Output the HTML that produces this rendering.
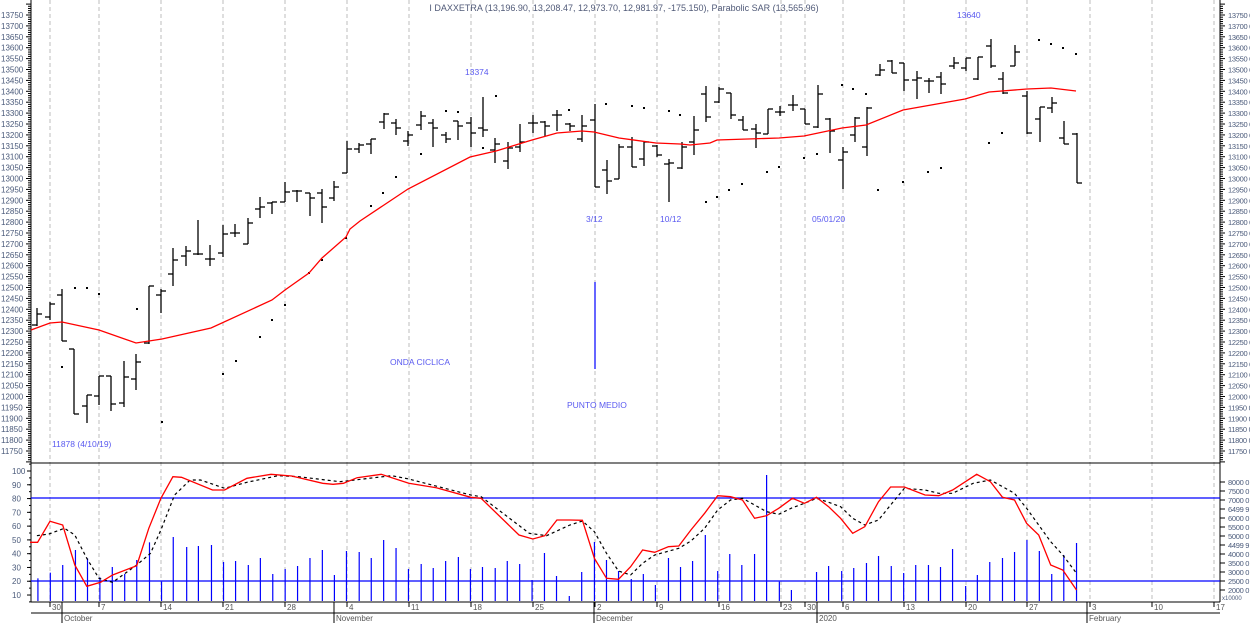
<!DOCTYPE html>
<html><head><meta charset="utf-8"><style>
html,body{margin:0;padding:0;background:#fff;width:1250px;height:623px;overflow:hidden}
svg text{font-family:"Liberation Sans",sans-serif}
</style></head><body>
<svg id="s" width="1250" height="623" xmlns="http://www.w3.org/2000/svg">
<g id="grid"></g>
<g id="ax" stroke="#000" stroke-width="1"></g>
<g id="lbl" font-size="8" fill="#4a5a7a"></g>
<g id="rlbl" font-size="7.5" fill="#4a5a7a" letter-spacing="-0.3"></g>
<text x="624" y="11" font-size="9" fill="#505a78" text-anchor="middle">I DAXXETRA (13,196.90, 13,208.47, 12,973.70, 12,981.97, -175.150), Parabolic SAR (13,565.96)</text>
<g font-size="8.5" fill="#5a5af0">
<text x="465" y="75">13374</text><text x="957" y="18">13640</text>
<text x="586" y="222">3/12</text><text x="660" y="222">10/12</text><text x="812" y="222">05/01/20</text>
<text x="390" y="365">ONDA CICLICA</text><text x="567" y="408">PUNTO MEDIO</text>
<text x="52" y="447">11878 (4/10/19)</text>
</g>
<line x1="595" y1="282" x2="595" y2="369" stroke="#0000ff" stroke-width="1.2"/>
<g id="bars" stroke="#000" stroke-width="1.3" fill="none"></g>
<g id="sar" fill="#000"></g>
<g id="vol" stroke="#0000ff" stroke-width="1.2"></g>
<line x1="31" y1="498" x2="1220" y2="498" stroke="#0000ff" stroke-width="1.2"/>
<line x1="31" y1="581" x2="1220" y2="581" stroke="#0000ff" stroke-width="1.2"/>
<polyline id="ma" fill="none" stroke="#f00" stroke-width="1.3"/>
<polyline id="sk" fill="none" stroke="#000" stroke-width="1.2" stroke-dasharray="3,3"/>
<polyline id="sr" fill="none" stroke="#f00" stroke-width="1.3"/>
</svg>
<script>
var NS="http://www.w3.org/2000/svg";
function el(p,t,a,txt){var e=document.createElementNS(NS,t);for(var k in a)e.setAttribute(k,a[k]);if(txt!=null)e.textContent=txt;document.getElementById(p).appendChild(e);return e;}
var gx=[50,99,161,223,285,347,409,471,533,595,657,719,781,805,843,904,966,1027,1090,1152,1214];
gx.forEach(function(x){el('grid','line',{x1:x,y1:0,x2:x,y2:602,stroke:'#bdbdbd','stroke-dasharray':'4,3'});});
el('ax','line',{x1:31,y1:0,x2:31,y2:602});
el('ax','line',{x1:1220,y1:0,x2:1220,y2:602});
el('ax','line',{x1:31,y1:463,x2:1220,y2:463});
el('ax','line',{x1:31,y1:602,x2:1220,y2:602});
el('ax','line',{x1:31,y1:613,x2:1220,y2:613});
for(var p=13800;p>=11700;p-=10){var y=15+(13750-p)*0.218;var big=p%50==0;
 el('ax','line',{x1:big?26:28,y1:y,x2:31,y2:y});el('ax','line',{x1:1220,y1:y,x2:big?1225:1223,y2:y});
 if(big&&p<=13750&&p>=11750){el('lbl','text',{x:1,y:y+3},String(p));el('rlbl','text',{x:1228,y:y+3},String(p)+' 0');}}
for(var v=100;v>=10;v-=10){var y=471+(100-v)*1.378;el('lbl','text',{x:12,y:y+3},String(v));el('ax','line',{x1:27,y1:y,x2:31,y2:y});}
for(var v=105;v>=5;v-=5){var y=471+(100-v)*1.378;el('ax','line',{x1:29,y1:y,x2:31,y2:y});}
var rl=['8000 0','7500 0','7000 0','6499 9','6000 0','5500 0','5000 0','4499 9','4000 0','3500 0','3000 0','2500 0','2000 0'];
rl.forEach(function(t,i){var y=482+i*9;el('rlbl','text',{x:1228,y:y+3},t);el('ax','line',{x1:1220,y1:y,x2:1225,y2:y});});
el('lbl','text',{x:1222,y:600,'font-size':6},'x10000');
var dl=['30','7','14','21','28','4','11','18','25','2','9','16','23','30','6','13','20','27','3','10','17'];
gx.forEach(function(x,i){el('ax','line',{x1:x,y1:602,x2:x,y2:607});el('lbl','text',{x:x+2,y:610,fill:'#555'},dl[i]);});
[[62,'October'],[334,'November'],[594,'December'],[817,'2020'],[1087,'February']].forEach(function(m){el('ax','line',{x1:m[0],y1:602,x2:m[0],y2:623});el('lbl','text',{x:m[0]+2,y:621,fill:'#555'},m[1]);});
var B=[[37,308,326,325,314],[50,302,320,317,304],[62,289,341,295,341],[74,349,414,349,414],[87,395,423,406,395],[99,376,405,396,376],[111,376,411,376,404],[124,361,407,403,377],[136,354,390,379,362],[149,286,344,343,286],[161,289,313,295,291],[173,248,286,274,260],[186,246,266,256,251],[198,220,255,254,254],[210,245,266,259,259],[223,225,257,253,234],[235,224,237,233,233],[248,218,244,244,223],[260,197,218,209,207],[272,202,214,203,202],[285,182,202,202,192],[297,190,202,191,191],[310,193,216,193,198],[322,189,223,193,207],[334,181,201,198,187],[347,141,173,173,149],[359,143,153,149,145],[371,139,154,144,139],[384,113,129,122,114],[396,119,135,123,128],[408,131,146,141,135],[421,111,130,125,116],[433,119,147,123,128],[446,132,143,135,139],[458,121,140,121,126],[471,117,147,123,133],[483,97,137,128,130],[495,138,163,150,144],[508,142,169,161,148],[520,124,152,147,142],[533,115,133,123,123],[545,121,136,122,126],[557,110,131,115,115],[570,123,131,124,126],[582,115,142,139,126],[595,104,187,120,187],[607,160,194,170,181],[619,144,179,179,147],[632,137,167,147,167],[644,142,166,159,142],[657,145,157,146,155],[669,159,202,164,163],[682,142,169,168,147],[694,116,155,142,130],[706,86,122,94,117],[719,87,103,102,89],[731,93,119,93,115],[743,116,130,120,130],[756,124,148,129,133],[768,109,134,134,109],[780,106,116,112,112],[793,95,111,105,105],[805,109,124,109,124],[818,85,128,127,94],[830,118,153,119,131],[843,147,189,160,152],[855,117,142,135,118],[867,107,156,147,108],[880,64,76,75,70],[892,60,73,61,73],[904,63,91,63,80],[917,71,99,80,78],[929,78,93,81,81],[941,72,94,77,84],[954,57,69,66,63],[966,58,71,68,58],[978,57,80,79,57],[991,39,68,46,66],[1003,72,94,79,93],[1015,45,66,66,52],[1027,91,134,96,133],[1040,107,142,119,107],[1052,97,113,108,103],[1064,121,144,138,144],[1077,133,183,134,183]];
B.forEach(function(b){var x=b[0];el('bars','line',{x1:x,y1:b[1],x2:x,y2:b[2]});el('bars','line',{x1:x-5,y1:b[3],x2:x,y2:b[3]});el('bars','line',{x1:x,y1:b[4],x2:x+5,y2:b[4]});});
var S=[[62,367],[75,288],[87,288],[99,294],[137,309],[162,422],[223,374],[236,361],[260,337],[272,320],[285,305],[309,273],[322,260],[346,238],[371,206],[383,193],[396,177],[421,154],[446,111],[458,112],[483,148],[496,96],[569,110],[606,104],[632,106],[644,108],[669,111],[680,115],[706,202],[717,197],[729,190],[742,184],[767,172],[779,167],[804,158],[817,154],[842,85],[853,89],[866,94],[878,190],[903,182],[928,172],[941,168],[989,143],[1002,133],[1039,40],[1051,44],[1063,48],[1076,54]];
S.forEach(function(s){el('sar','rect',{x:s[0]-1,y:s[1]-1,width:2,height:2});});
document.getElementById('ma').setAttribute('points',"31,330 50,323 62,322 99,330 136,343 162,339 211,328 272,300 285,290 309,273 322,258 346,237 350,229 360,221 408,189 470,157 496,151 532,140 557,133 582,131 594,132 619,138 656,143 680,144 690,145 710,143 717,140 779,138 804,136 842,128 866,125 903,110 965,99 989,92 1027,89 1051,88 1076,91");
function conv(a,ox){return a.map(function(p){return (ox+p[0]/2.904).toFixed(1)+','+(465+p[1]/3).toFixed(1);}).join(' ');}
var r1=[[0,232],[22,232],[58,169],[95,180],[130,300],[165,364],[205,352],[240,330],[310,302],[345,190],[380,100],[415,35],[440,37],[530,75],[565,75],[630,40],[700,28],[760,33],[850,55],[880,58],[910,55],[950,38],[1020,28],[1100,55],[1180,68],[1280,97],[1310,100],[1420,210],[1460,222],[1495,212],[1530,165],[1568,165]];
var r2=[[0,166],[65,166],[100,280],[135,340],[170,343],[205,305],[240,255],[275,262],[315,245],[345,243],[380,195],[420,145],[458,92],[495,95],[530,105],[565,160],[600,152],[635,130],[675,100],[710,115],[745,97],[780,125],[815,160],[850,205],[885,185],[925,110],[960,66],[1000,66],[1060,90],[1100,92],[1140,75],[1210,28],[1250,50],[1285,97],[1320,105],[1355,175],[1390,210],[1425,300],[1460,315],[1500,375]];
var k1=[[20,212],[55,207],[100,190],[130,210],[165,280],[200,340],[240,352],[310,300],[350,265],[380,195],[420,90],[465,45],[495,45],[565,70],[630,52],[720,32],[780,35],[900,50],[1050,32],[1100,42],[1280,90],[1310,95],[1450,205],[1500,212],[1568,180]];
var k2=[[0,195],[65,168],[100,200],[135,265],[170,318],[205,330],[240,295],[275,270],[345,250],[380,228],[420,190],[458,135],[495,105],[530,100],[565,120],[600,140],[635,148],[675,128],[710,115],[745,100],[780,112],[815,125],[850,160],[885,180],[925,165],[960,120],[1000,70],[1060,75],[1100,85],[1140,85],[1200,55],[1250,45],[1320,85],[1355,130],[1390,180],[1425,230],[1460,270],[1500,325]];
document.getElementById('sr').setAttribute('points',conv(r1,30)+' '+conv(r2.slice(1),560));
document.getElementById('sk').setAttribute('points',conv(k1,30)+' '+conv(k2.slice(1),560));
var v1=[[23,340],[59,323],[95,300],[132,255],[167,280],[203,337],[239,306],[275,327],[310,285],[347,232],[382,350],[416,216],[455,246],[489,243],[527,240],[562,291],[597,288],[634,300],[669,279],[705,327],[741,312],[777,303],[813,279],[849,255],[884,330],[919,258],[956,261],[991,279],[1027,225],[1063,249],[1099,312],[1136,297],[1171,309],[1207,288],[1244,276],[1279,312],[1314,306],[1351,309],[1386,288],[1422,297],[1458,345],[1494,264],[1529,333]];
var v2=[[27,393],[63,321],[100,231],[135,285],[170,318],[207,342],[242,327],[277,360],[315,279],[350,306],[385,288],[422,210],[458,318],[493,267],[528,300],[565,267],[600,30],[637,350],[672,375],[745,321],[780,303],[818,318],[853,309],[890,294],[925,273],[962,303],[998,324],[1033,300],[1070,300],[1105,306],[1140,252],[1178,363],[1212,330],[1248,291],[1285,279],[1320,261],[1356,225],[1392,258],[1428,327],[1463,270],[1500,234]];
function vb(a,ox){a.forEach(function(p){var x=ox+p[0]/2.904;el('vol','line',{x1:x,y1:465+p[1]/3,x2:x,y2:601});});}
vb(v1,30);vb(v2,560);
</script>
</body></html>
